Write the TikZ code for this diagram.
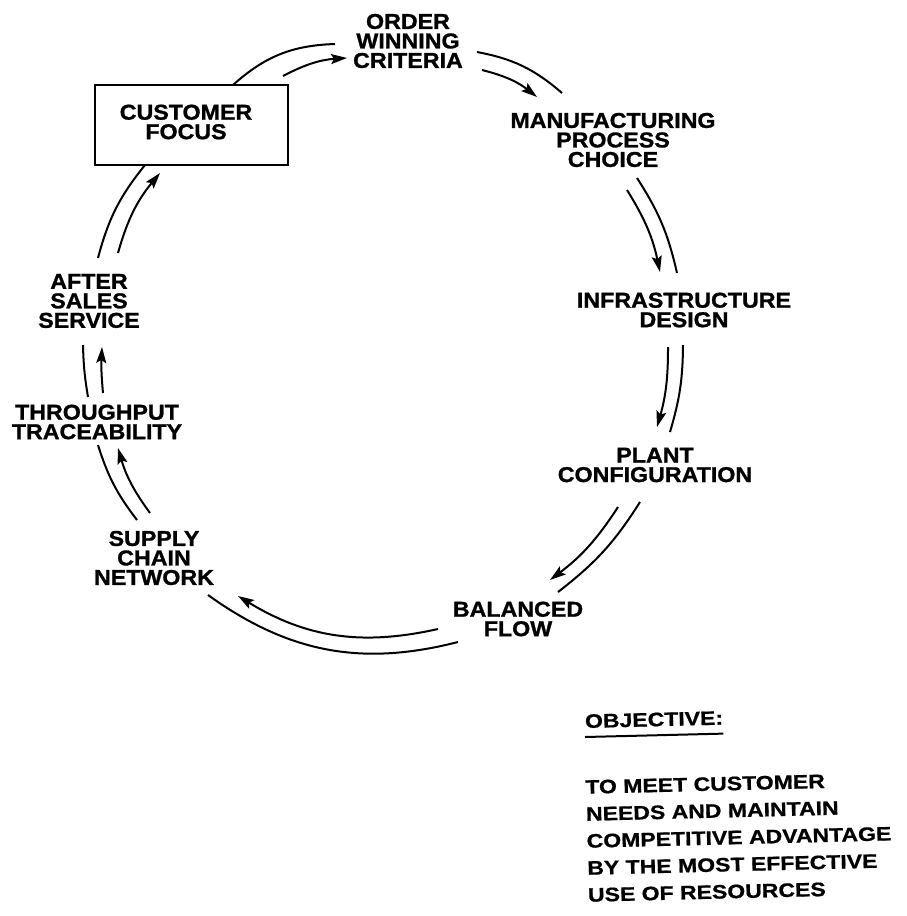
\documentclass[tikz,border=0pt]{standalone}
\usepackage{fontspec}
\setmainfont{Liberation Sans}
\newfontfamily\ringfont{Liberation Sans}[FakeStretch=1.08,FakeBold=1.2]
\newfontfamily\objfont{Liberation Sans}[FakeStretch=1.18,FakeBold=0.8]
\usetikzlibrary{arrows.meta}
\begin{document}
\begin{tikzpicture}[x=1pt,y=-1pt,
  lbl/.style={font=\ringfont\bfseries\fontsize{21.5}{19.5}\selectfont,align=center,inner sep=0pt},
  focusbox/.style={draw,line width=2.2pt,minimum width=193pt,minimum height=80pt,inner sep=0pt},
  objtext/.style={font=\objfont\bfseries\fontsize{19.5}{27}\selectfont,align=left,inner sep=0pt,rotate=1.4},
  plain/.style={line width=2pt},
  flow/.style={line width=2pt,-{Stealth[length=16pt,width=10pt,inset=3pt]}}]
\useasboundingbox (0,0) rectangle (906,916);

% stages of the cycle
\node[lbl] (order) at (408,41) {ORDER\\WINNING\\CRITERIA};
\node[focusbox] (focus) at (191.5,125) {};
\node[lbl] (focustext) at (186,122) {CUSTOMER\\FOCUS};
\node[lbl] (mfg) at (613,140) {MANUFACTURING\\PROCESS\\CHOICE};
\node[lbl] (infra) at (684,310) {INFRASTRUCTURE\\DESIGN};
\node[lbl] (plant) at (655,465) {PLANT\\CONFIGURATION};
\node[lbl] (flow) at (518,619) {BALANCED\\FLOW};
\node[lbl] (supply) at (154,558) {SUPPLY\\CHAIN\\NETWORK};
\node[lbl] (thru) at (97,422) {THROUGHPUT\\TRACEABILITY};
\node[lbl] (after) at (89,301) {AFTER\\SALES\\SERVICE};

% end points of the paired arcs (outer line plain, inner line arrowed)
\coordinate (co1) at (233,85);  \coordinate (co2) at (335,44);
\coordinate (ci1) at (283,76);  \coordinate (ci2) at (347,58);
\coordinate (om1) at (477,52);  \coordinate (om2) at (562,93);
\coordinate (omi1) at (482,70); \coordinate (omi2) at (537,97);
\coordinate (mi1) at (637,178); \coordinate (mi2) at (677,273);
\coordinate (mii1) at (627,190);\coordinate (mii2) at (660,272);
\coordinate (ip1) at (683,345); \coordinate (ip2) at (670,432);
\coordinate (ipi1) at (668,347);\coordinate (ipi2) at (657,427);
\coordinate (pb1) at (640,502); \coordinate (pb2) at (558,592);
\coordinate (pbi1) at (618,507);\coordinate (pbi2) at (550,580);
\coordinate (bs1) at (458,642); \coordinate (bs2) at (208,595);
\coordinate (bsi1) at (438,629);\coordinate (bsi2) at (238,596);
\coordinate (st1) at (137,520); \coordinate (st2) at (98,445);
\coordinate (sti1) at (150,513);\coordinate (sti2) at (118,448);
\coordinate (ta1) at (88,397);  \coordinate (ta2) at (83,345);
\coordinate (tai1) at (103,393);\coordinate (tai2) at (102,347);
\coordinate (ac1) at (98,258);  \coordinate (ac2) at (145,165);
\coordinate (aci1) at (118,253);\coordinate (aci2) at (160,173);

\draw[plain] (co1) to[bend left=20] (co2);
\draw[flow]  (ci1) to[bend left=12] (ci2);
\draw[plain] (om1) to[bend left=15] (om2);
\draw[flow]  (omi1) to[bend left=12] (omi2);
\draw[plain] (mi1) to[bend left=10] (mi2);
\draw[flow]  (mii1) to[bend left=10] (mii2);
\draw[plain] (ip1) to[bend left=8] (ip2);
\draw[flow]  (ipi1) to[bend left=8] (ipi2);
\draw[plain] (pb1) to[bend left=10] (pb2);
\draw[flow]  (pbi1) to[bend left=10] (pbi2);
\draw[plain] (bs1) to[bend left=25] (bs2);
\draw[flow]  (bsi1) to[bend left=22] (bsi2);
\draw[plain] (st1) to[bend left=10] (st2);
\draw[flow]  (sti1) to[bend left=10] (sti2);
\draw[plain] (ta1) to[bend left=4] (ta2);
\draw[flow]  (tai1) to[bend left=4] (tai2);
\draw[plain] (ac1) to[bend left=12] (ac2);
\draw[flow]  (aci1) to[bend left=12] (aci2);

% objective statement
\node[objtext,anchor=base west] (objtitle) at (585,728) {OBJECTIVE:};
\draw[line width=2pt] ([yshift=-9pt]objtitle.base west) -- ([yshift=-9pt]objtitle.base east);
\node[objtext,anchor=north west] (objbody) at (585,780)
  {TO MEET CUSTOMER\\NEEDS AND MAINTAIN\\COMPETITIVE ADVANTAGE\\BY THE MOST EFFECTIVE\\USE OF RESOURCES};
\end{tikzpicture}
\end{document}
